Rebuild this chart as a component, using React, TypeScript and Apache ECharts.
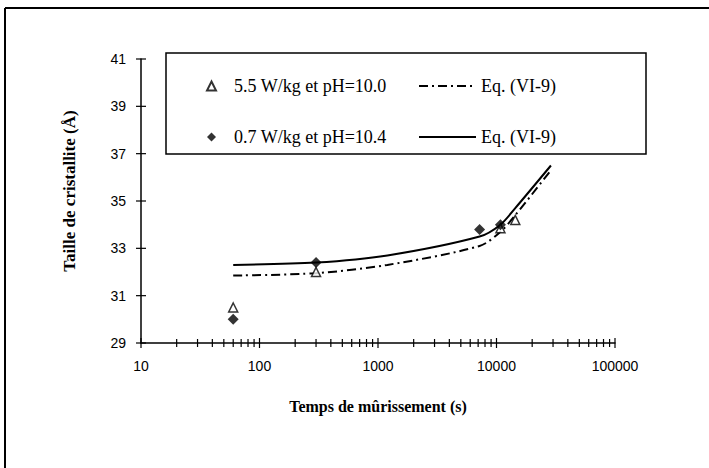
import React, { useEffect, useRef } from "react";
import * as echarts from "echarts";

// Data
const tri55X = [60, 300, 10800, 14400];
const tri55Y = [30.5, 32.0, 33.85, 34.2];
const dia07X = [60, 300, 7200, 10800];
const dia07Y = [30.0, 32.4, 33.8, 34.0];
const eqDashX = [60, 300, 1200, 7200, 10800, 14400, 28800];
const eqDashY = [31.85, 31.95, 32.3, 33.1, 33.7, 34.4, 36.3];
const eqSolidX = [60, 300, 1200, 7200, 10800, 14400, 28800];
const eqSolidY = [32.3, 32.4, 32.7, 33.5, 34.0, 34.7, 36.5];
const xMajorTicks = [10, 100, 1000, 10000, 100000];
const xMinorTicks = [
  20, 30, 40, 50, 60, 70, 80, 90,
  200, 300, 400, 500, 600, 700, 800, 900,
  2000, 3000, 4000, 5000, 6000, 7000, 8000, 9000,
  20000, 30000, 40000, 50000, 60000, 70000, 80000, 90000,
];
const yTicks = [29, 31, 33, 35, 37, 39, 41];

const zip = (xs: number[], ys: number[]) => xs.map((x, i) => [x, ys[i]]);

export default function App() {
  const ref = useRef<HTMLDivElement>(null);
  useEffect(() => {
    if (!ref.current) return;
    const chart = echarts.init(ref.current, null, { renderer: "svg" });
    const serif = "Liberation Serif, Times New Roman, serif";
    const sans = "Liberation Sans, Arial, sans-serif";
    const tickSeries = (data: number[][], kind: "x" | "y", half: number) => ({
      type: "custom",
      silent: true,
      clip: false,
      z: 5,
      data,
      renderItem: (params: any, api: any) => {
        const p = api.coord([api.value(0), api.value(1)]);
        return kind === "x"
          ? {
              type: "line",
              shape: { x1: p[0], y1: p[1] - half, x2: p[0], y2: p[1] + half },
              style: { stroke: "#000", lineWidth: 1.2 },
            }
          : {
              type: "line",
              shape: { x1: p[0] - half, y1: p[1], x2: p[0] + half, y2: p[1] },
              style: { stroke: "#000", lineWidth: 1.2 },
            };
      },
    });
    chart.setOption({
      animation: false,
      backgroundColor: "#fff",
      grid: { left: 141, right: 94, top: 59, bottom: 125 },
      xAxis: {
        type: "log",
        logBase: 10,
        min: 10,
        max: 100000,
        name: "Temps de mûrissement (s)",
        nameLocation: "middle",
        nameGap: 55,
        nameTextStyle: { fontFamily: serif, fontWeight: "bold", fontSize: 16, color: "#000" },
        axisLine: { lineStyle: { color: "#000", width: 1.5 } },
        axisTick: { show: false },
        minorTick: { show: false },
        splitLine: { show: false },
        axisLabel: {
          fontFamily: sans,
          fontSize: 14,
          color: "#000",
          margin: 16,
          formatter: (v: number) => String(Math.round(v)),
        },
      },
      yAxis: {
        type: "value",
        min: 29,
        max: 41,
        interval: 2,
        name: "Taille de cristallite (Å)",
        nameLocation: "middle",
        nameGap: 63,
        nameTextStyle: { fontFamily: serif, fontWeight: "bold", fontSize: 17, color: "#000", padding: [0, 0, 0, 20] },
        axisLine: { lineStyle: { color: "#000", width: 1.5 } },
        axisTick: { show: false },
        splitLine: { show: false },
        axisLabel: { fontFamily: sans, fontSize: 14, color: "#000", margin: 15 },
      },
      legend: [
        {
          data: ["5.5 W/kg et pH=10.0", "0.7 W/kg et pH=10.4"],
          orient: "vertical",
          left: 201,
          top: 72,
          itemWidth: 9,
          itemHeight: 9,
          itemGap: 33,
          textStyle: { fontFamily: serif, fontSize: 18, color: "#000", padding: [0, 0, 0, 13] },
        },
        {
          data: ["eq1", "eq2"],
          orient: "vertical",
          left: 413,
          top: 72,
          itemWidth: 57,
          itemHeight: 9,
          itemGap: 33,
          itemStyle: { color: "rgba(0,0,0,0)", borderWidth: 0, opacity: 0 },
          formatter: () => "Eq. (VI-9)",
          textStyle: { fontFamily: serif, fontSize: 18, color: "#000" },
        },
      ],
      graphic: [
        { type: "line", shape: { x1: 5, y1: 8, x2: 709, y2: 8 }, style: { stroke: "#000", lineWidth: 2 } },
        { type: "line", shape: { x1: 5, y1: 8, x2: 5, y2: 468 }, style: { stroke: "#000", lineWidth: 2 } },
        {
          type: "rect",
          shape: { x: 166, y: 53, width: 480, height: 101 },
          style: { fill: "#fff", stroke: "#000", lineWidth: 1.5 },
          z: -1,
        },
      ],
      series: [
        {
          name: "eq1",
          type: "line",
          data: zip(eqDashX, eqDashY),
          smooth: 0.3,
          showSymbol: false,
          symbol: "none",
          itemStyle: { color: "#000" },
          lineStyle: { color: "#000", width: 2, type: [9, 4, 2, 4] },
          z: 3,
        },
        {
          name: "eq2",
          type: "line",
          data: zip(eqSolidX, eqSolidY),
          smooth: 0.3,
          showSymbol: false,
          symbol: "none",
          itemStyle: { color: "#000" },
          lineStyle: { color: "#000", width: 2, type: "solid" },
          z: 3,
        },
        {
          name: "5.5 W/kg et pH=10.0",
          type: "scatter",
          data: zip(tri55X, tri55Y),
          symbol: "triangle",
          symbolSize: 9,
          itemStyle: { color: "#fff", borderColor: "#000", borderWidth: 1.5 },
          z: 4,
        },
        {
          name: "0.7 W/kg et pH=10.4",
          type: "scatter",
          data: zip(dia07X, dia07Y),
          symbol: "diamond",
          symbolSize: 11,
          itemStyle: { color: "#000" },
          z: 4,
        },
        tickSeries(xMajorTicks.map((v) => [v, 29]), "x", 5),
        tickSeries(xMinorTicks.map((v) => [v, 29]), "x", 4),
        tickSeries(yTicks.map((v) => [10, v]), "y", 5),
      ],
    });
    return () => chart.dispose();
  }, []);
  return (
    <div
      ref={ref}
      style={{ position: "fixed", left: 0, top: 0, width: 709, height: 468, background: "#fff" }}
    />
  );
}
